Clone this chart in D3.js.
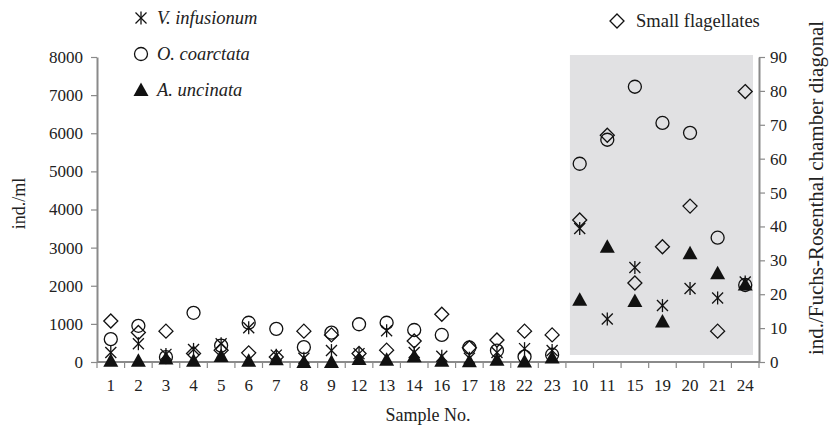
<!DOCTYPE html>
<html>
<head>
<meta charset="utf-8">
<script src="https://cdn.jsdelivr.net/npm/d3@7"></script>
<style>
  body { margin: 0; background: #fff; }
  svg text { fill: #222; }
</style>
</head>
<body>
<div id="chart"></div>
<script>
// samples in plotted order (last 7 are the shaded group)
const samples = ["1", "2", "3", "4", "5", "6", "7", "8", "9", "12", "13", "14", "16", "17", "18", "22", "23", "10", "11", "15", "19", "20", "21", "24"];
const shadedSamples = ["10", "11", "15", "19", "20", "21", "24"];

// ind./ml (left axis)
const vInfusionum = [250, 480, 200, 330, 480, 900, 180, 100, 300, 220, 820, 250, 150, 100, 250, 350, 300, 3500, 1130, 2480, 1480, 1930, 1680, 2100];
const oCoarctata = [600, 950, 130, 1290, 430, 1030, 870, 390, 770, 990, 1030, 840, 710, 380, 300, 140, 190, 5200, 5830, 7220, 6270, 6010, 3260, 2020];
const aUncinata = [30, 30, 90, 30, 160, 30, 70, 0, 0, 80, 60, 150, 30, 20, 60, 10, 120, 1630, 3020, 1600, 1060, 2850, 2330, 2030];
// ind./Fuchs-Rosenthal chamber diagonal (right axis)
const smallFlagellates = [12.1, 8.7, 9.1, 2.5, 3.5, 2.7, 1.5, 9.1, 8.0, 2.5, 3.5, 6.2, 14.1, 4.2, 6.5, 9.1, 8.0, 41.9, 66.9, 23.3, 34.0, 46.0, 9.1, 79.8];

const leftTicks = [0, 1000, 2000, 3000, 4000, 5000, 6000, 7000, 8000];
const rightTicks = [0, 10, 20, 30, 40, 50, 60, 70, 80, 90];

const FONT = "'Liberation Serif', 'Times New Roman', Times, 'DejaVu Serif', serif";

const W = 831, H = 433;
const margin = { top: 57, right: 72, bottom: 71, left: 97 };
const width = W - margin.left - margin.right,
  height = H - margin.top - margin.bottom;

const svg = d3.select("#chart").append("svg")
  .attr("width", W)
  .attr("height", H)
  .attr("font-family", FONT);
const g = svg.append("g").attr("transform", `translate(${margin.left},${margin.top})`);

const x = d3.scaleBand().domain(samples).range([0, width]);
const yL = d3.scaleLinear().domain([0, 8000]).range([height, 0]);
const yR = d3.scaleLinear().domain([0, 90]).range([height, 0]);
const cx = s => x(s) + x.bandwidth() / 2;

// shaded group background
const s0 = x(shadedSamples[0]);
g.append("rect")
  .attr("x", s0 + 4)
  .attr("y", yL(8000) - 2)
  .attr("width", width - s0 - 10)
  .attr("height", height - 5)
  .attr("fill", "#e1e1e3");

const axisColor = "#8a8a8a";
function styleAxis(sel) {
  sel.attr("font-family", FONT).attr("font-size", 17);
  sel.select(".domain").attr("stroke", axisColor).attr("stroke-width", 2);
  sel.selectAll(".tick line").attr("stroke", axisColor).attr("stroke-width", 1.2);
}

// left axis
g.append("g")
  .call(d3.axisLeft(yL).tickValues(leftTicks).tickFormat(d3.format("d"))
    .tickSize(6).tickSizeOuter(0).tickPadding(8))
  .call(styleAxis);

// right axis
g.append("g")
  .attr("transform", `translate(${width},0)`)
  .call(d3.axisRight(yR).tickValues(rightTicks).tickFormat(d3.format("d"))
    .tickSize(6).tickSizeOuter(0).tickPadding(5))
  .call(styleAxis);

// bottom axis: ticks on band edges, labels centred
const xAxis = g.append("g").attr("transform", `translate(0,${height})`);
xAxis.append("line")
  .attr("x1", 0).attr("x2", width)
  .attr("stroke", axisColor).attr("stroke-width", 2);
xAxis.selectAll(".edge")
  .data(samples.concat(["end"]))
  .join("line")
  .attr("class", "edge")
  .attr("x1", (d, i) => i * x.step())
  .attr("x2", (d, i) => i * x.step())
  .attr("y1", 0).attr("y2", 6)
  .attr("stroke", axisColor).attr("stroke-width", 1.2);
xAxis.selectAll(".lbl")
  .data(samples)
  .join("text")
  .attr("class", "lbl")
  .attr("x", d => cx(d))
  .attr("y", 29)
  .attr("text-anchor", "middle")
  .attr("font-size", 17)
  .text(d => d);

// marker shapes
const line = d3.line();
function asterisk(sel, px, py) {
  const p = sel.append("g").attr("transform", `translate(${px},${py})`)
    .attr("stroke", "#111").attr("stroke-width", 1.3).attr("fill", "none");
  p.append("path").attr("d", line([[0, -6.5], [0, 6.5]]));
  p.append("path").attr("d", line([[-5.5, -5.5], [5.5, 5.5]]));
  p.append("path").attr("d", line([[-5.5, 5.5], [5.5, -5.5]]));
}
function circle(sel, px, py) {
  sel.append("circle").attr("cx", px).attr("cy", py).attr("r", 6.5)
    .attr("fill", "none").attr("stroke", "#111").attr("stroke-width", 1.3);
}
function diamond(sel, px, py) {
  sel.append("path")
    .attr("d", line([[px, py - 7], [px + 7, py], [px, py + 7], [px - 7, py]]) + "Z")
    .attr("fill", "none").attr("stroke", "#111").attr("stroke-width", 1.3);
}
function triangle(sel, px, py) {
  sel.append("path")
    .attr("d", line([[px, py - 7.5], [px + 7.5, py + 6], [px - 7.5, py + 6]]) + "Z")
    .attr("fill", "#111");
}

const marks = g.append("g");
samples.forEach((s, i) => diamond(marks, cx(s), yR(smallFlagellates[i])));
samples.forEach((s, i) => circle(marks, cx(s), yL(oCoarctata[i])));
samples.forEach((s, i) => asterisk(marks, cx(s), yL(vInfusionum[i])));
samples.forEach((s, i) => triangle(marks, cx(s), yL(aUncinata[i])));

// legends
const legend = [
  { name: "V. infusionum", draw: asterisk, y: 18 },
  { name: "O. coarctata", draw: circle, y: 54 },
  { name: "A. uncinata", draw: triangle, y: 90 }
];
legend.forEach(l => {
  l.draw(svg, 141, l.y);
  svg.append("text")
    .attr("x", 157).attr("y", l.y + 6)
    .attr("font-size", 18.5)
    .attr("font-style", "italic")
    .text(l.name);
});
diamond(svg, 617, 21);
svg.append("text")
  .attr("x", 636).attr("y", 27)
  .attr("font-size", 18.5)
  .text("Small flagellates");

// axis titles
svg.append("text")
  .attr("transform", `translate(25,${margin.top + height / 2 - 6}) rotate(-90)`)
  .attr("text-anchor", "middle")
  .attr("font-size", 18)
  .text("ind./ml");

svg.append("text")
  .attr("transform", `translate(823,188) rotate(-90)`)
  .attr("text-anchor", "middle")
  .attr("font-size", 21)
  .text("ind./Fuchs-Rosenthal chamber diagonal");

svg.append("text")
  .attr("x", margin.left + width / 2)
  .attr("y", 421)
  .attr("text-anchor", "middle")
  .attr("font-size", 18)
  .text("Sample No.");
</script>
</body>
</html>
